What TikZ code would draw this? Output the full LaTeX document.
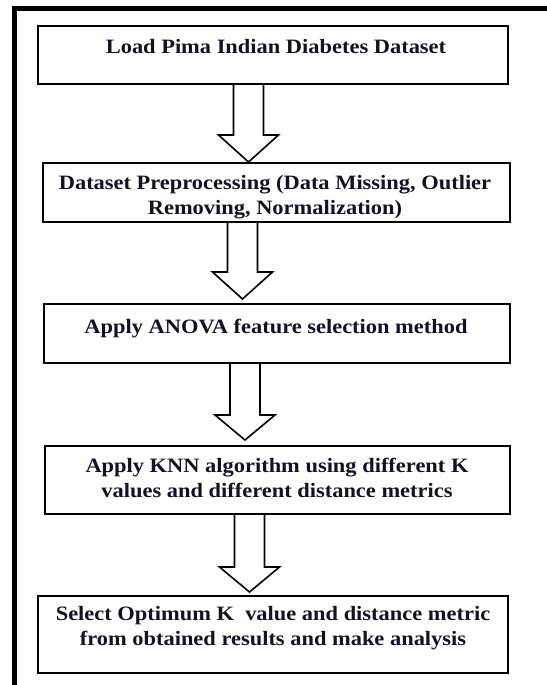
\documentclass[tikz,border=0pt]{standalone}
\usepackage{fontspec}
\setmainfont{Liberation Serif}[FakeStretch=1.1]
\usetikzlibrary{calc}
\definecolor{textc}{RGB}{18,18,38}
\tikzset{
  stepbox/.style={draw=black, line width=2pt, fill=white, rectangle, inner sep=0pt},
  steptext/.style={font=\fontsize{20.4}{25}\selectfont\bfseries, text=textc, align=center, inner sep=0pt, anchor=north},
  barrow/.style={draw=black, line width=1.6pt, fill=white, line join=miter},
  frameline/.style={draw=black, line width=4.7pt}
}
% #1 from node, #2 to node, #3 centre x, #4 y where head starts, #5 tip y
\newcommand\blockarr[5]{%
  \draw[barrow] let \p1=(#1.south), \p2=(#2.north) in
    (#3-15,\y1) -- (#3-15,#4) -- (#3-30,#4) -- (#3,#5) -- (#3+30,#4) -- (#3+15,#4) -- (#3+15,\y1);
}
\begin{document}
\begin{tikzpicture}[x=1pt,y=-1pt]
\useasboundingbox (0,0) rectangle (546,685);
% outer frame (cropped on right and bottom)
\draw[frameline] (14.2,690) -- (14.2,8.3) -- (550,8.3);
% boxes
\node[stepbox, minimum width=470pt, minimum height=58pt] (b1) at (273,55) {};
\node[stepbox, minimum width=467pt, minimum height=59pt] (b2) at (276.5,192.5) {};
\node[stepbox, minimum width=466pt, minimum height=59pt] (b3) at (277,333.5) {};
\node[stepbox, minimum width=465pt, minimum height=68pt] (b4) at (277.5,480) {};
\node[stepbox, minimum width=470pt, minimum height=77pt] (b5) at (273,634.5) {};
% texts
\node[steptext] (t1) at (276,39.5) {Load Pima Indian Diabetes Dataset};
\node[steptext] (t2) at (275,175.5) {Dataset Preprocessing (Data Missing, Outlier\\Removing, Normalization)};
\node[steptext] (t3) at (276,319) {Apply ANOVA feature selection method};
\node[steptext] (t4) at (277,458) {Apply KNN algorithm using different K\\values and different distance metrics};
\node[steptext] (t5) at (273,606) {Select Optimum K\ \ value and distance metric\\from obtained results and make analysis};
% arrows
\blockarr{b1}{b2}{248.5}{135}{162}
\blockarr{b2}{b3}{242.5}{272}{299}
\blockarr{b3}{b4}{245}{415}{440}
\blockarr{b4}{b5}{249.5}{567}{592}
\end{tikzpicture}
\end{document}
